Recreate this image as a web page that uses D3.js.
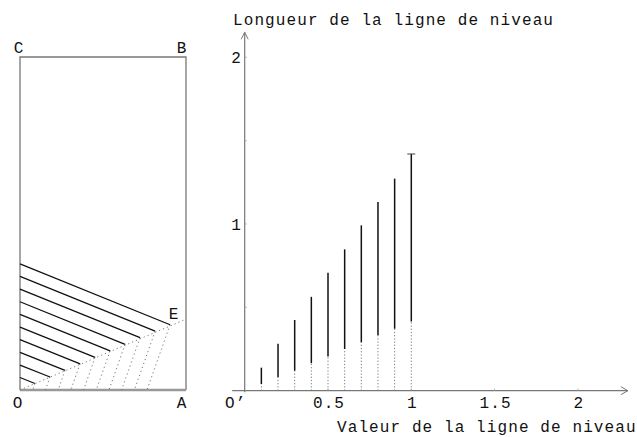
<!DOCTYPE html>
<html><head><meta charset="utf-8">
<script src="https://cdn.jsdelivr.net/npm/d3@7"></script>
<style>body{margin:0;background:#fff}svg{display:block}text{font-family:"Liberation Mono","DejaVu Sans Mono",monospace;font-size:16px;fill:#111;letter-spacing:1.1px}</style>
</head><body><svg id="c" width="637" height="437"></svg>
<script>
// ---- Data ----
const levels = [0.1,0.2,0.3,0.4,0.5,0.6,0.7,0.8,0.9,1.0];
// right chart: lengths
const dottedLen = [0.04,0.08,0.12,0.165,0.205,0.25,0.29,0.333,0.372,0.415];
const totalLen  = [0.138,0.282,0.424,0.563,0.708,0.848,0.992,1.132,1.272,1.42];
// left panel: level lines (rectangle 1 x 2)
const startY = [0.075,0.150,0.226,0.302,0.378,0.454,0.530,0.606,0.682,0.757];
const bendX  = [0.090,0.181,0.271,0.362,0.452,0.543,0.633,0.723,0.814,0.904];
const bendY  = [0.039,0.078,0.118,0.157,0.196,0.235,0.274,0.314,0.353,0.392];
const footX  = [0.077,0.153,0.230,0.306,0.383,0.459,0.536,0.612,0.689,0.765];
const xTicks = [0.5,1,1.5,2];
const yTicks = [1,2];
const xTickLabels = ["0.5","1","1.5","2"];
const yTickLabels = ["1","2"];

const svg = d3.select("#c");
const gray = "#777";

// ---- Left panel ----
const lx = d3.scaleLinear().domain([0,1]).range([20,186]);
const ly = d3.scaleLinear().domain([0,2]).range([390,57]);
const L = svg.append("g");
L.append("path").attr("d", d3.line()([[lx(0),ly(0)],[lx(0),ly(2)],[lx(1),ly(2)],[lx(1),ly(0)]]))
  .attr("fill","none").attr("stroke",gray).attr("stroke-width",1.3);
L.append("line").attr("x1",lx(0)).attr("x2",lx(1)).attr("y1",ly(0)).attr("y2",ly(0))
  .attr("stroke","#999").attr("stroke-width",2.5);
// dotted line O -> E -> right edge
L.append("line").attr("x1",lx(0)).attr("y1",ly(0)).attr("x2",lx(1)).attr("y2",ly(0.425))
  .attr("stroke",gray).attr("stroke-width",1).attr("stroke-dasharray","1.2,3");
levels.forEach((v,i)=>{
  L.append("line").attr("x1",lx(0)).attr("y1",ly(startY[i])).attr("x2",lx(bendX[i])).attr("y2",ly(bendY[i]))
    .attr("stroke","#111").attr("stroke-width",1.3);
  L.append("line").attr("x1",lx(bendX[i])).attr("y1",ly(bendY[i])).attr("x2",lx(footX[i])).attr("y2",ly(0))
    .attr("stroke",gray).attr("stroke-width",1).attr("stroke-dasharray","1.2,3");
});
const lab = (x,y,t,anchor)=>svg.append("text").attr("x",x).attr("y",y).attr("text-anchor",anchor||"middle").text(t);
lab(19,53,"C"); lab(182,53,"B"); lab(174,319,"E"); lab(18,408,"O"); lab(182,408,"A");

// ---- Right chart ----
const x = d3.scaleLinear().domain([0,1]).range([244.7,411.3]);
const y = d3.scaleLinear().domain([0,1]).range([390.7,224]);
const R = svg.append("g");
// axes
R.append("line").attr("x1",x(-0.075)).attr("x2",x(2.3)).attr("y1",y(0)).attr("y2",y(0)).attr("stroke",gray).attr("stroke-width",1.2);
R.append("path").attr("d",`M${x(2.3)-7},${y(0)-4}L${x(2.3)},${y(0)}L${x(2.3)-7},${y(0)+4}`).attr("fill","none").attr("stroke",gray);
R.append("line").attr("x1",x(0)).attr("x2",x(0)).attr("y1",y(-0.01)).attr("y2",y(2.15)).attr("stroke",gray).attr("stroke-width",1.2);
R.append("path").attr("d",`M${x(0)-3.5},${y(2.15)+7}L${x(0)},${y(2.15)}L${x(0)+3.5},${y(2.15)+7}`).attr("fill","none").attr("stroke",gray);
// small ticks
[0.5,1,1.5,2].forEach(t=>{
  R.append("line").attr("x1",x(t)).attr("x2",x(t)).attr("y1",y(0)).attr("y2",y(0)-2).attr("stroke","#aaa");
  R.append("line").attr("x1",x(0)).attr("x2",x(0)+2).attr("y1",y(t)).attr("y2",y(t)).attr("stroke","#aaa");
});
xTicks.forEach((t,i)=>lab(x(t)+1,408,xTickLabels[i]));
yTicks.forEach((t,i)=>lab(x(0)-8,y(t)+6,yTickLabels[i]));
lab(x(0)-9,408,"O’");
// bars
levels.forEach((v,i)=>{
  R.append("line").attr("x1",x(v)).attr("x2",x(v)).attr("y1",y(0)).attr("y2",y(dottedLen[i]))
    .attr("stroke",gray).attr("stroke-width",1).attr("stroke-dasharray","1.2,2");
  R.append("line").attr("x1",x(v)).attr("x2",x(v)).attr("y1",y(dottedLen[i])).attr("y2",y(totalLen[i]))
    .attr("stroke","#111").attr("stroke-width",1.5);
});
const last = levels.length-1;
R.append("line").attr("x1",x(levels[last])-4).attr("x2",x(levels[last])+4).attr("y1",y(totalLen[last])).attr("y2",y(totalLen[last]))
  .attr("stroke","#444").attr("stroke-width",1);
// titles
lab(233,25,"Longueur de la ligne de niveau","start");
lab(337,432,"Valeur de la ligne de niveau","start");
</script></body></html>
